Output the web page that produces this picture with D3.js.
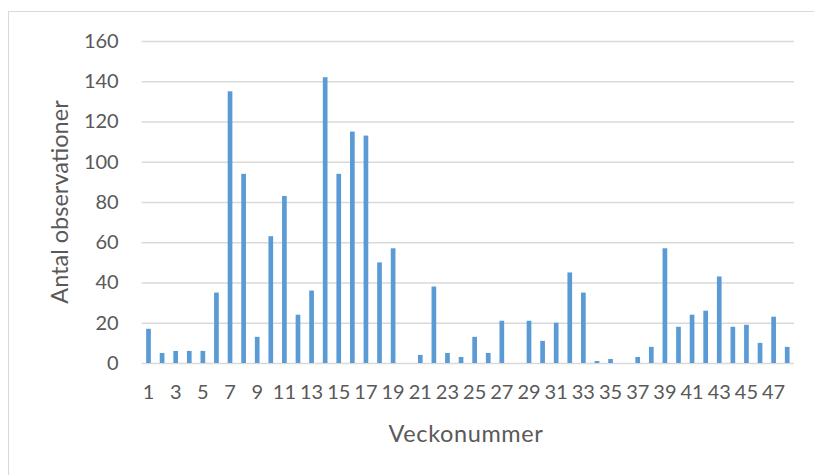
<!DOCTYPE html>
<html>
<head>
<meta charset="utf-8">
<script src="https://cdn.jsdelivr.net/npm/d3@7"></script>
<style>
  body { margin: 0; background: #fff; }
  svg text { font-family: Lato, "Open Sans", sans-serif; fill: #595959; }
</style>
</head>
<body>
<div id="chart"></div>
<script>
var weeks = d3.range(1, 49);
var counts = [17, 5, 6, 6, 6, 35, 135, 94, 13, 63, 83, 24, 36, 142, 94, 115, 113, 50, 57, 0,
    4, 38, 5, 3, 13, 5, 21, 0, 21, 11, 20, 45, 35, 1, 2, 0, 3, 8, 57, 18,
    24, 26, 43, 18, 19, 10, 23, 8];
var y_ticks = [0, 20, 40, 60, 80, 100, 120, 140, 160];
var x_title = 'Veckonummer';
var y_title = 'Antal observationer';

var data = weeks.map((w, i) => ({ week: w, count: counts[i] }));

var width = 814, height = 475;
var margin = { top: 41, right: 20, bottom: 112, left: 141.7 };
var plot_w = 794 - margin.left,
    plot_h = height - margin.top - margin.bottom;

var svg = d3.select('#chart').append('svg')
    .attr('width', width)
    .attr('height', height);

// chart frame
svg.append('rect')
    .attr('x', 8.5)
    .attr('y', 11.5)
    .attr('width', width)
    .attr('height', height)
    .attr('fill', 'none')
    .attr('stroke', '#d9d9d9');

var g = svg.append('g')
    .attr('transform', `translate(${margin.left},${margin.top})`);

var x = d3.scaleBand()
    .domain(weeks)
    .range([0, plot_w])
    .paddingInner(0.655)
    .paddingOuter(0.655 / 2);

var y = d3.scaleLinear()
    .domain([0, 160])
    .range([plot_h, 0]);

// gridlines + y labels
var yAxis = g.append('g')
    .call(d3.axisLeft(y).tickValues(y_ticks).tickSize(-plot_w).tickPadding(23));
yAxis.select('.domain').remove();
yAxis.selectAll('line').attr('stroke', '#d9d9d9').attr('stroke-width', 1.3);
yAxis.selectAll('text').attr('font-size', 20).attr('fill', '#595959');

// x labels (odd weeks)
var xAxis = g.append('g')
    .attr('transform', `translate(0,${plot_h})`)
    .call(d3.axisBottom(x).tickValues(weeks.filter(w => w % 2 == 1)).tickSize(0).tickPadding(22));
xAxis.select('.domain').remove();
xAxis.selectAll('text').attr('font-size', 20).attr('fill', '#595959');

g.selectAll('.bar')
    .data(data)
    .enter()
    .append('rect')
    .attr('class', 'bar')
    .attr('x', d => x(d.week))
    .attr('y', d => y(d.count))
    .attr('width', x.bandwidth())
    .attr('height', d => y(0) - y(d.count))
    .attr('fill', '#5b9bd5');

svg.append('text')
    .attr('x', 466)
    .attr('y', 442)
    .attr('text-anchor', 'middle')
    .attr('font-size', 23.5)
    .attr('letter-spacing', 0.6)
    .text(x_title);

svg.append('text')
    .attr('transform', `translate(68,${margin.top + plot_h / 2}) rotate(-90)`)
    .attr('text-anchor', 'middle')
    .attr('font-size', 23.5)
    .text(y_title);
</script>
</body>
</html>
